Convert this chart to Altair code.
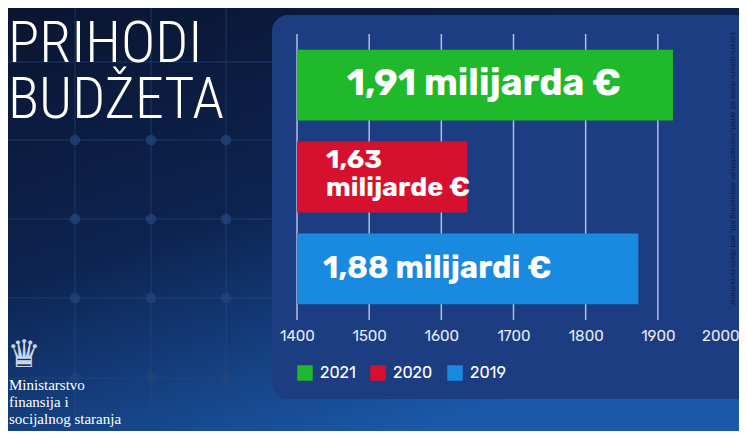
import altair as alt
import pandas as pd

# ---------------- data ----------------
years = ["2021", "2020", "2019"]
values = [1921, 1636, 1873]          # bar ends (mil. €)
labels = ["1,91 milijarda €", "1,63\nmilijarde €", "1,88 milijardi €"]
colors = ["#20b92c", "#d6112f", "#1a8ae0"]
tick_values = [1400, 1500, 1600, 1700, 1800, 1900, 2000]
grid_values = [1400, 1500, 1600, 1700, 1800, 1900]
axis_min, axis_max = 1400, 2000

df = pd.DataFrame({"year": years, "value": values, "label": labels,
                   "base": [axis_min] * len(years)})
grid_df = pd.DataFrame({"g": grid_values})
one = pd.DataFrame({"a": [0]})

# ---------------- layout ----------------
W, H = 433, 286
PL, PT = 289, 26
TOTAL_W, TOTAL_H = 731, 423
PR = TOTAL_W - PL - W
PB = TOTAL_H - PT - H


def lx(px):  # page x -> plot-local x
    return px - (8 + PL)


def ly(py):  # page y -> plot-local y
    return py - (8 + PT)


last_test = f"datum.value === {axis_max}"
xscale = alt.Scale(domain=[axis_min, axis_max], zero=False, nice=False)
xaxis = alt.Axis(values=tick_values, format="d", title=None, domain=False,
                 ticks=False, grid=False, labelColor="#e4eaf7",
                 labelFontSize=15, labelFont="Rubik, Roboto",
                 labelPadding=8, labelFlush=False, zindex=1,
                 labelAlign=alt.condition(last_test, alt.value("right"),
                                          alt.value("center")),
                 labelOffset=alt.condition(last_test, alt.value(PR),
                                           alt.value(0)))
yscale = alt.Scale(domain=years, paddingInner=0.23, paddingOuter=0.17)

# ---------------- background ----------------
bg_grad = alt.LinearGradient(
    gradient="linear",
    stops=[alt.GradientStop(offset=0, color="#0a1530"),
           alt.GradientStop(offset=0.5, color="#0d2350"),
           alt.GradientStop(offset=1, color="#1b58a8")],
    x1=0, y1=0, x2=0.55, y2=1)
bg = alt.Chart(one).mark_rect(color=bg_grad).encode(
    x=alt.value(-PL), x2=alt.value(W + PR),
    y=alt.value(-PT), y2=alt.value(H + PB))

layers = [bg]
for gx in [75, 151, 226]:
    layers.append(alt.Chart(one).mark_rule(color="#2a4a80", opacity=0.4,
                                           strokeWidth=1.5).encode(
        x=alt.value(lx(gx)), y=alt.value(-PT), y2=alt.value(H + PB)))
for gy in [62, 140, 219, 298, 378]:
    layers.append(alt.Chart(one).mark_rule(color="#2a4a80", opacity=0.4,
                                           strokeWidth=1.5).encode(
        y=alt.value(ly(gy)), x=alt.value(-PL), x2=alt.value(W + PR)))
for gx in [75, 151, 226]:
    for gy in [140, 219, 298, 378]:
        layers.append(alt.Chart(one).mark_circle(color="#24447a", opacity=0.75,
                                                 size=110).encode(
            x=alt.value(lx(gx)), y=alt.value(ly(gy))))

panel = alt.Chart(one).mark_rect(color="#1c3d82", cornerRadius=16).encode(
    x=alt.value(lx(272)), x2=alt.value(W + PR + 30),
    y=alt.value(ly(15)), y2=alt.value(ly(399)))
layers.append(panel)

# ---------------- chart ----------------
grid = alt.Chart(grid_df).mark_rule(color="#c9d6f2", strokeWidth=1.5,
                                    opacity=0.85).encode(
    x=alt.X("g:Q", scale=xscale, axis=xaxis),
    y=alt.value(0), y2=alt.value(H))
layers.append(grid)

bars = alt.Chart(df).mark_bar().encode(
    y=alt.Y("year:N", sort=years, scale=yscale, axis=None),
    x=alt.X("base:Q", scale=xscale, axis=xaxis),
    x2="value:Q",
    color=alt.Color("year:N", sort=years,
                    scale=alt.Scale(domain=years, range=colors),
                    legend=alt.Legend(orient="none", legendX=0, legendY=331,
                                      direction="horizontal", title=None,
                                      symbolType="square", symbolSize=240,
                                      symbolStrokeWidth=0, symbolOpacity=1,
                                      labelFontSize=16, labelColor="#ffffff",
                                      labelFont="Rubik, Roboto",
                                      labelOffset=7, columnPadding=14,
                                      padding=0)))
layers.append(bars)

lab_font = "Rubik, Lato"
green_lab = alt.Chart(df).transform_filter(alt.datum.year == "2021").mark_text(
    font=lab_font, fontWeight="bold", fontSize=37, color="white",
    align="center", baseline="middle", dy=-1).encode(
    x=alt.value(lx(484)), y=alt.Y("year:N", sort=years, scale=yscale, axis=None),
    text="label:N")
red_lab = alt.Chart(df).transform_filter(alt.datum.year == "2020").mark_text(
    font=lab_font, fontWeight="bold", fontSize=27, color="white",
    align="left", baseline="middle", lineBreak="\n", lineHeight=28,
    dy=-17).encode(
    x=alt.value(lx(326)), y=alt.Y("year:N", sort=years, scale=yscale, axis=None),
    text="label:N")
blue_lab = alt.Chart(df).transform_filter(alt.datum.year == "2019").mark_text(
    font=lab_font, fontWeight="bold", fontSize=31, color="white",
    align="left", baseline="middle").encode(
    x=alt.value(lx(323)), y=alt.Y("year:N", sort=years, scale=yscale, axis=None),
    text="label:N")
layers += [green_lab, red_lab, blue_lab]

# ---------------- texts ----------------
title_font = "Liberation Sans Narrow, Roboto Condensed, Roboto"
for txt, base in [("PRIHODI", 62), ("BUDŽETA", 118)]:
    layers.append(alt.Chart(one).mark_text(
        text=txt, font=title_font, fontWeight=300, fontSize=58,
        color="white", align="left", baseline="alphabetic").encode(
        x=alt.value(lx(8)), y=alt.value(ly(base))))

layers.append(alt.Chart(one).mark_text(
    text="Ministarstvo\nfinansija i\nsocijalnog staranja", lineBreak="\n",
    font="Liberation Serif, DejaVu Serif", fontSize=15, lineHeight=17,
    color="white", align="left", baseline="alphabetic").encode(
    x=alt.value(lx(9)), y=alt.value(ly(390))))

layers.append(alt.Chart(one).mark_text(
    text="♛", font="DejaVu Sans", fontSize=38, color="#cdd5e4",
    align="center", baseline="middle").encode(
    x=alt.value(lx(24)), y=alt.value(ly(356))))

layers.append(alt.Chart(one).mark_text(
    text="Lorem ipsum dolor sit amet, consectetuer adipiscing elit, sed diam nonummy",
    font="Roboto", fontSize=8, color="#0c1d46", angle=90,
    align="left", baseline="middle").encode(
    x=alt.value(lx(733)), y=alt.value(ly(32))))

chart = alt.layer(*layers).properties(
    width=W, height=H,
    autosize=alt.AutoSizeParams(type="none"),
    padding={"left": PL, "top": PT, "right": PR, "bottom": PB},
).configure_view(stroke=None).configure(background="#0b1833")

chart.save("out.html", embed_options={"renderer": "svg", "actions": False})
